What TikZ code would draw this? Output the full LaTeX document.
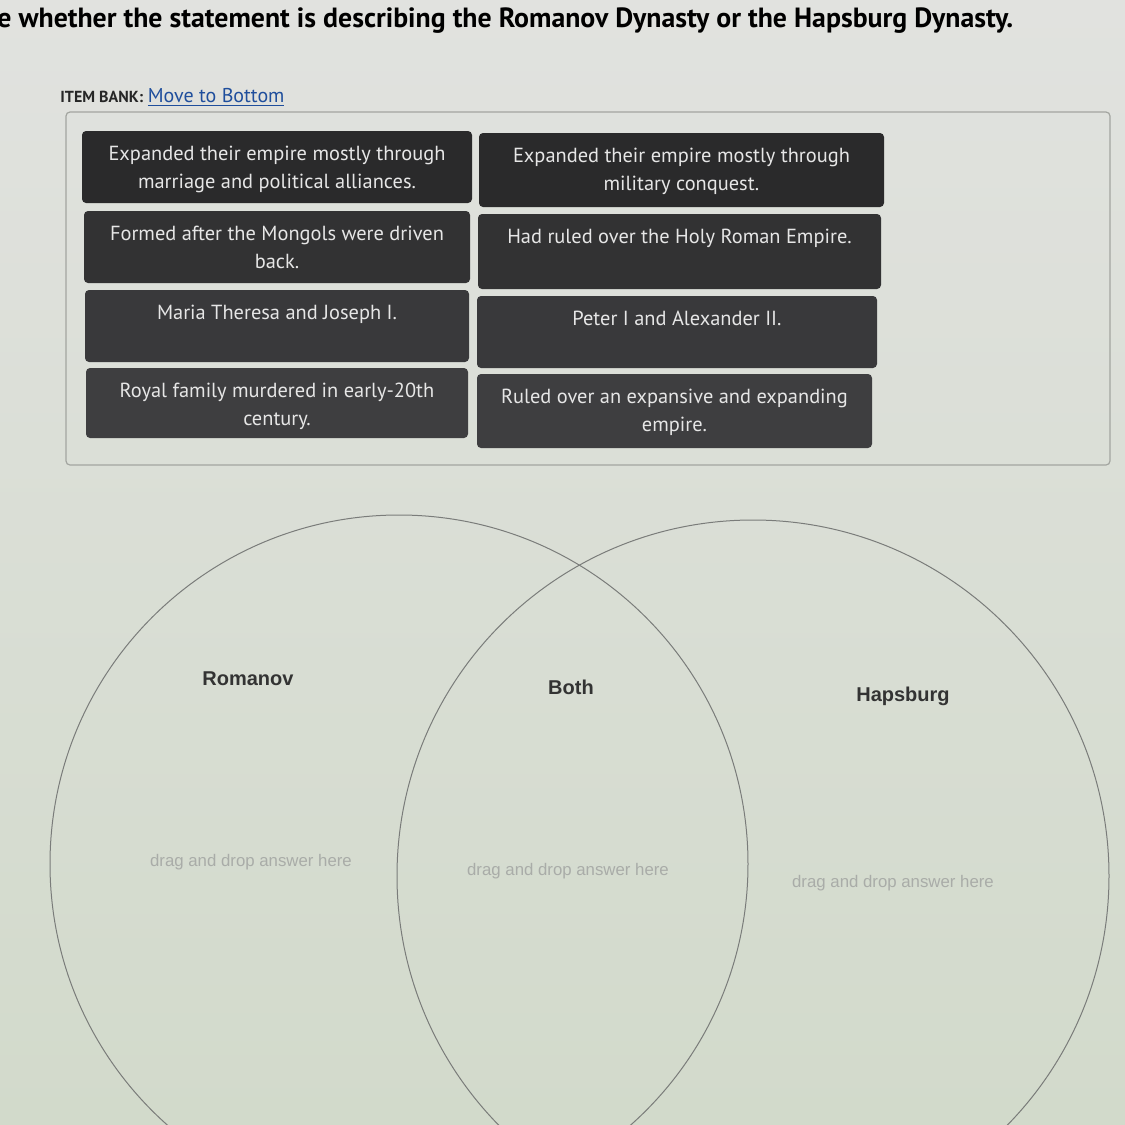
\documentclass[tikz,border=0pt]{standalone}
\usepackage{fontspec}
\newfontfamily\uifont{PT Sans}
\newfontfamily\arialfont{Liberation Sans}
\usetikzlibrary{positioning}
\definecolor{screentop}{HTML}{E1E2DF}
\definecolor{screenbot}{HTML}{D2DACB}
\definecolor{tileA}{HTML}{2A2A2B}
\definecolor{tileB}{HTML}{323233}
\definecolor{tileC}{HTML}{39393B}
\definecolor{tileD}{HTML}{3E3E40}
\definecolor{tiletext}{HTML}{E6E6E6}
\definecolor{linkblue}{HTML}{1F4E9C}
\definecolor{frameline}{HTML}{A3A5A0}
\definecolor{vennline}{HTML}{7A7C7A}
\definecolor{hintgray}{HTML}{A9ACA8}

\tikzset{
  tile/.style={fill=#1, rounded corners=2pt, inner sep=0pt},
  tilelabel/.style={anchor=north, inner sep=0pt, align=center, text=tiletext,
    font=\uifont\fontsize{10.2}{14}\selectfont},
  venn/.style={draw=vennline, line width=0.5pt, circle, inner sep=0pt},
  setname/.style={text=black!80, font=\arialfont\bfseries\fontsize{10}{12}\selectfont},
  drophint/.style={text=hintgray, font=\arialfont\fontsize{8.4}{10}\selectfont}
}

\begin{document}
\begin{tikzpicture}[x=0.5pt, y=-0.5pt]
  \useasboundingbox (0,0) rectangle (1125,1125);
  \fill[top color=screentop, bottom color=screenbot] (0,0) rectangle (1125,1125);

  % heading and item bank
  \node[anchor=base west, inner sep=0pt, font=\uifont\bfseries\fontsize{13.9}{16}\selectfont]
    (title) at (-3,27) {e whether the statement is describing the Romanov Dynasty or the Hapsburg Dynasty.};
  \node[anchor=base west, inner sep=0pt, font=\uifont\bfseries\fontsize{8}{10}\selectfont, text=black!85]
    (bank) at (60,102) {ITEM BANK:};
  \node[right=2pt of bank.base east, anchor=base west, inner sep=0pt, text=linkblue,
    font=\uifont\fontsize{10}{12}\selectfont] (move) {\underline{Move to Bottom}};
  \draw[frameline, line width=0.6pt, rounded corners=2pt] (66,112) rectangle (1110,465);

  % tiles: left column, then right column
  \node[tile=tileA, minimum width=195pt,   minimum height=36pt]   (expmarr) at (277,167)   {};
  \node[tile=tileA, minimum width=202.5pt, minimum height=37pt]   (expmil)  at (681.5,170) {};
  \node[tile=tileB, minimum width=193pt,   minimum height=36pt]   (mongols) at (277,247)   {};
  \node[tile=tileB, minimum width=201.5pt, minimum height=37.5pt] (holyrom) at (679.5,251.5) {};
  \node[tile=tileC, minimum width=192pt,   minimum height=36pt]   (maria)   at (277,326)   {};
  \node[tile=tileC, minimum width=200pt,   minimum height=36pt]   (peter)   at (677,332)   {};
  \node[tile=tileD, minimum width=191pt,   minimum height=35pt]   (royal)   at (277,403)   {};
  \node[tile=tileD, minimum width=197.5pt, minimum height=37pt]   (ruled)   at (674.5,411) {};

  \node[tilelabel, below=7.5pt of expmarr.north] (expmarrtxt) {Expanded their empire mostly through\\marriage and political alliances.};
  \node[tilelabel, below=7.5pt of expmil.north]  (expmiltxt)  {Expanded their empire mostly through\\military conquest.};
  \node[tilelabel, below=7.5pt of mongols.north] (mongolstxt) {Formed after the Mongols were driven\\back.};
  \node[tilelabel, below=7.5pt of holyrom.north] (holyromtxt) {Had ruled over the Holy Roman Empire.};
  \node[tilelabel, below=7.5pt of maria.north]   (mariatxt)   {Maria Theresa and Joseph I.};
  \node[tilelabel, below=7.5pt of peter.north]   (petertxt)   {Peter I and Alexander II.};
  \node[tilelabel, below=7.5pt of royal.north]   (royaltxt)   {Royal family murdered in early-20th\\century.};
  \node[tilelabel, below=7.5pt of ruled.north]   (ruledtxt)   {Ruled over an expansive and expanding\\empire.};

  % venn diagram
  \begin{scope}
    \clip (0,0) rectangle (1125,1125);
    \node[venn, minimum size=349pt] (romc) at (399,864) {};
    \node[venn, minimum size=356pt] (hapc) at (753,876) {};
  \end{scope}
  \node[setname] (romname)  at (248,679) {Romanov};
  \node[setname] (bothname) at (571,687) {Both};
  \node[setname] (hapname)  at (903,696) {Hapsburg};
  \node[drophint] (romdrop)  at (251,862) {drag and drop answer here};
  \node[drophint] (bothdrop) at (568,871) {drag and drop answer here};
  \node[drophint] (hapdrop)  at (893,883) {drag and drop answer here};
\end{tikzpicture}
\end{document}
